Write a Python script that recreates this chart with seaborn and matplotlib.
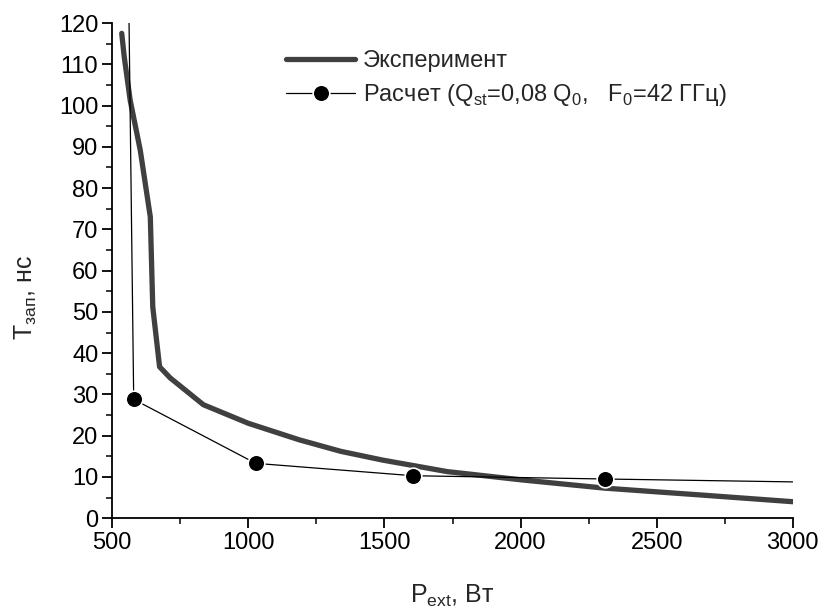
import numpy as np
import pandas as pd
import seaborn as sns
import matplotlib.pyplot as plt
from matplotlib.ticker import MultipleLocator

# Эксперимент
exp_p = [535, 544, 566, 603, 640, 649, 674, 713, 835, 1000, 1187, 1340, 1492, 1730, 2002, 2307, 2647, 3000]
exp_t = [117.5, 111.9, 101.3, 89.2, 73.0, 51.2, 36.7, 34.0, 27.5, 23.0, 19.0, 16.2, 14.1, 11.3, 9.3, 7.3, 5.7, 4.0]

# Расчет
calc_p = [560, 579, 1027, 1604, 2311, 3200]
calc_t = [130, 28.8, 13.3, 10.3, 9.5, 8.6]

df_exp = pd.DataFrame({'P': exp_p, 'T': exp_t})
df_calc = pd.DataFrame({'P': calc_p, 'T': calc_t})

sns.set_style('ticks')
plt.rcParams['font.family'] = ['Liberation Sans', 'DejaVu Sans']
plt.rcParams['mathtext.fontset'] = 'custom'
plt.rcParams['mathtext.rm'] = 'Liberation Sans'

fs = 17

fig = plt.figure(figsize=(8.25, 6.14), dpi=100)
ax = fig.add_axes([0.136, 0.156, 0.825, 0.8065])

sns.lineplot(data=df_exp, x='P', y='T', ax=ax, color='#404040', linewidth=3.8,
             label='Эксперимент', sort=False)
sns.lineplot(data=df_calc, x='P', y='T', ax=ax, color='black', linewidth=0.9,
             marker='o', markersize=12, markeredgecolor='white', markeredgewidth=1.2,
             label='Расчет (Q$_{\\mathregular{st}}$=0,08 Q$_{\\mathregular{0}}$,   F$_{\\mathregular{0}}$=42 ГГц)',
             sort=False)

ax.set_xlim(500, 3000)
ax.set_ylim(0, 120)
ax.xaxis.set_major_locator(MultipleLocator(500))
ax.xaxis.set_minor_locator(MultipleLocator(250))
ax.yaxis.set_major_locator(MultipleLocator(10))
ax.yaxis.set_minor_locator(MultipleLocator(5))

ax.tick_params(which='major', direction='out', length=7, width=1.3, labelsize=fs, colors='black', pad=3)
ax.tick_params(which='minor', direction='out', length=4, width=1.3)
for s in ['left', 'bottom']:
    ax.spines[s].set_linewidth(1.3)
    ax.spines[s].set_color('black')
sns.despine(ax=ax)

ax.set_xlabel('P$_{\\mathregular{ext}}$, Вт', fontsize=18, labelpad=21)
ax.set_ylabel('T$_{\\mathregular{зап}}$, нс', fontsize=18, labelpad=14)
ax.yaxis.label.set_y(0.446)

leg = ax.legend(loc='upper left', bbox_to_anchor=(0.242, 0.965), frameon=False, fontsize=fs,
                handlelength=2.9, handletextpad=0.34, labelspacing=0.45, borderaxespad=0)

fig.savefig('out.png', dpi=100)
